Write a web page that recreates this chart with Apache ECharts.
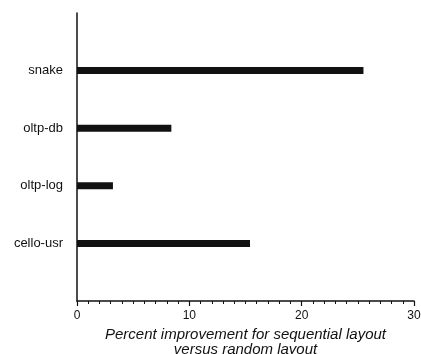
<!DOCTYPE html>
<html>
<head>
<meta charset="utf-8">
<script src="https://cdn.jsdelivr.net/npm/echarts@6/dist/echarts.min.js"></script>
<style>html,body{margin:0;padding:0;background:#fff;}#c{width:421px;height:354px;}</style>
</head>
<body>
<div id="c"></div>
<script>
const categories = ['', 'cello-usr', 'oltp-log', 'oltp-db', 'snake', ''];
const improvement = [null, 15.4, 3.2, 8.4, 25.5, null];
const xTicks = [0, 10, 20, 30];
const xTitle = 'Percent improvement for sequential layout\nversus random layout';

const chart = echarts.init(document.getElementById('c'), null, {renderer: 'canvas'});
chart.setOption({
  animation: false,
  backgroundColor: '#fff',
  grid: {left: 77, right: 7, top: 13, bottom: 53, containLabel: false, outerBoundsMode: 'none'},
  xAxis: {
    type: 'value',
    min: xTicks[0], max: xTicks[xTicks.length - 1], interval: 10,
    name: xTitle,
    nameLocation: 'middle',
    nameGap: 25,
    nameTextStyle: {fontFamily: 'Liberation Sans', fontStyle: 'italic', fontSize: 15, color: '#111', lineHeight: 15},
    axisLine: {show: true, lineStyle: {color: '#111', width: 1.5}},
    axisTick: {show: true, inside: false, length: 5, lineStyle: {color: '#111', width: 1.2}},
    minorTick: {show: true, splitNumber: 10, length: 3, lineStyle: {color: '#111', width: 1}},
    splitLine: {show: false},
    axisLabel: {fontFamily: 'Liberation Sans', fontSize: 12, color: '#111', margin: 9}
  },
  yAxis: {
    type: 'category',
    data: categories,
    boundaryGap: false,
    axisLine: {show: true, lineStyle: {color: '#111', width: 1.5}},
    axisTick: {show: false},
    splitLine: {show: false},
    axisLabel: {fontFamily: 'Liberation Sans', fontSize: 13, color: '#111', margin: 14}
  },
  series: [{
    type: 'bar',
    data: improvement,
    barWidth: 7,
    itemStyle: {color: '#111'}
  }]
});
</script>
</body>
</html>
